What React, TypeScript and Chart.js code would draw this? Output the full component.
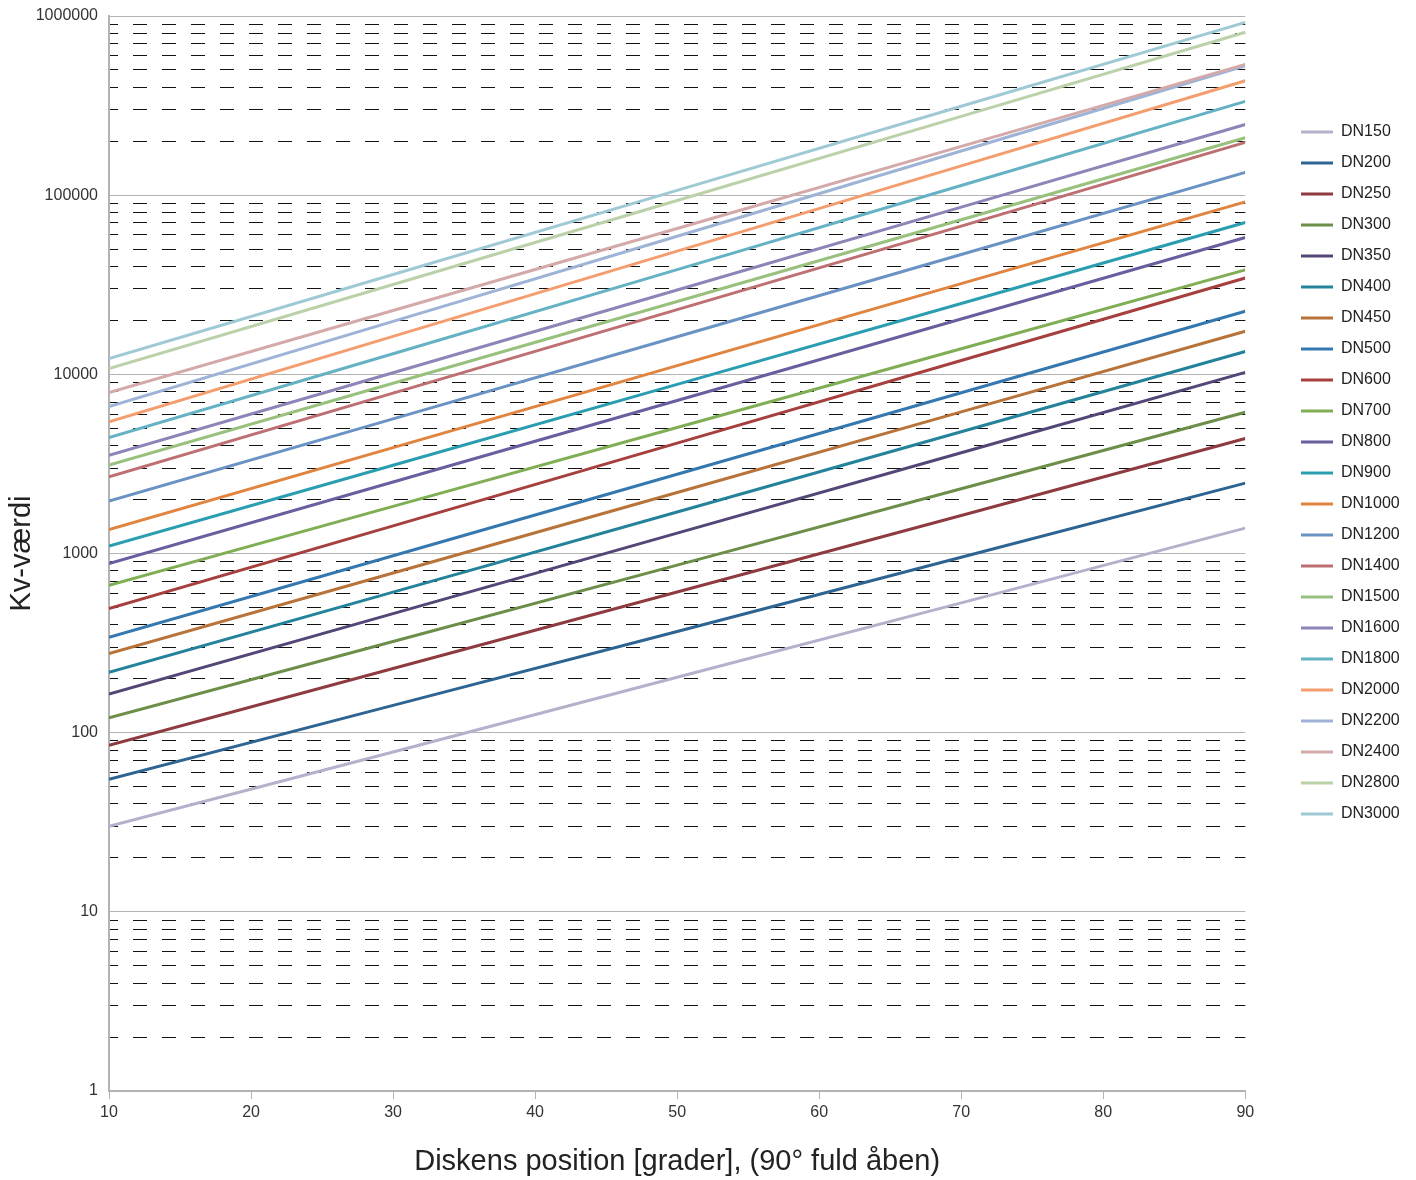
import React, { useEffect, useRef } from 'react';
import { Chart, registerables } from 'chart.js';

Chart.register(...registerables);

// ---- data ----
const degrees = [10, 30, 50, 70, 90];

const seriesNames = [
  'DN150', 'DN200', 'DN250', 'DN300', 'DN350', 'DN400', 'DN450', 'DN500',
  'DN600', 'DN700', 'DN800', 'DN900', 'DN1000', 'DN1200', 'DN1400', 'DN1500',
  'DN1600', 'DN1800', 'DN2000', 'DN2200', 'DN2400', 'DN2800', 'DN3000',
];

const dn150 = [30, 78, 204, 530, 1385];
const dn200 = [55, 142, 367, 953, 2470];
const dn250 = [85, 228, 610, 1630, 4380];
const dn300 = [121, 323, 861, 2300, 6140];
const dn350 = [164, 462, 1300, 3650, 10260];
const dn400 = [217, 609, 1706, 4780, 13400];
const dn450 = [276, 778, 2190, 6170, 17400];
const dn500 = [341, 971, 2770, 7890, 22500];
const dn600 = [493, 1426, 4130, 11940, 34500];
const dn700 = [665, 1832, 5050, 13900, 38300];
const dn800 = [879, 2506, 7150, 20370, 58000];
const dn900 = [1099, 3110, 8790, 24860, 70400];
const dn1000 = [1362, 3900, 11180, 32060, 91800];
const dn1200 = [1960, 5640, 16220, 46670, 134000];
const dn1400 = [2680, 7850, 22960, 67210, 197000];
const dn1500 = [3115, 8910, 25500, 72950, 209000];
const dn1600 = [3530, 10210, 29580, 85700, 248000];
const dn1800 = [4430, 13030, 38420, 113200, 334000];
const dn2000 = [5440, 16290, 48700, 145600, 435000];
const dn2200 = [6600, 19750, 59020, 176400, 528000];
const dn2400 = [7900, 22700, 65160, 187100, 537000];
const dn2800 = [10760, 31700, 93440, 275400, 811000];
const dn3000 = [12240, 36060, 106300, 313300, 922000];

const seriesValues = [
  dn150, dn200, dn250, dn300, dn350, dn400, dn450, dn500,
  dn600, dn700, dn800, dn900, dn1000, dn1200, dn1400, dn1500,
  dn1600, dn1800, dn2000, dn2200, dn2400, dn2800, dn3000,
];

const seriesColors = [
  '#b3b1cc', '#2e6491', '#8e3b3f', '#6b8e48', '#544676', '#24839a', '#b8733a', '#3578b0',
  '#a5403f', '#80ae55', '#6a5e9e', '#2a9db0', '#e0843f', '#6a93c4', '#be6f71', '#98c17e',
  '#8d84b8', '#65b2c4', '#f49e6f', '#9db4d6', '#d4a9a9', '#bbd1aa', '#a0c9d6',
];

const xTickValues = [10, 20, 30, 40, 50, 60, 70, 80, 90];
const yDecades = [1, 10, 100, 1000, 10000, 100000, 1000000];
const yMinorMultipliers = [2, 3, 4, 5, 6, 7, 8, 9];

const xTitle = 'Diskens position [grader], (90° fuld åben)';
const yTitle = 'Kv-værdi';

// ---- helpers ----
const FONT = "'Liberation Sans', Arial, Helvetica, sans-serif";

const isMajor = (v: number) => {
  const l = Math.log10(v);
  return Math.abs(l - Math.round(l)) < 1e-9;
};

const yTickValues: number[] = [];
yDecades.forEach((d, i) => {
  yTickValues.push(d);
  if (i < yDecades.length - 1) yMinorMultipliers.forEach((m) => yTickValues.push(m * d));
});
yTickValues.sort((a, b) => a - b);

const legendPlacer = {
  id: 'legendPlacer',
  afterLayout(chart: any) {
    const lg = chart.legend;
    if (!lg) return;
    const w = lg.width;
    lg.left = 1286;
    lg.right = 1286 + w;
    lg.top = 109;
  },
};

export default function App() {
  const canvasRef = useRef<HTMLCanvasElement | null>(null);

  useEffect(() => {
    if (!canvasRef.current) return;
    const n = seriesNames.length;
    const chart = new Chart(canvasRef.current, {
      type: 'line',
      data: {
        datasets: seriesNames.map((name, i) => ({
          label: name,
          data: degrees.map((x, j) => ({ x, y: seriesValues[i][j] })),
          borderColor: seriesColors[i],
          backgroundColor: seriesColors[i],
          borderWidth: 3,
          pointRadius: 0,
          tension: 0,
          fill: false,
          order: n - i,
        })),
      },
      options: {
        responsive: false,
        animation: false,
        layout: { padding: { top: 16, right: 47, bottom: 0, left: 0 } },
        scales: {
          x: {
            type: 'linear',
            min: 10,
            max: 90,
            afterBuildTicks: (s: any) => {
              s.ticks = xTickValues.map((v) => ({ value: v }));
            },
            afterFit: (s: any) => {
              s.height = 89;
            },
            ticks: {
              font: { family: FONT, size: 16 },
              color: '#333',
              padding: 4,
              autoSkip: false,
              maxRotation: 0,
            },
            grid: {
              drawOnChartArea: false,
              drawTicks: true,
              tickLength: 8,
              color: '#b3b3b3',
              lineWidth: 1,
            },
            border: { display: true, color: '#b3b3b3', width: 2 },
            title: {
              display: true,
              text: xTitle,
              font: { family: FONT, size: 29 },
              color: '#222',
              padding: { top: 0, bottom: 1 },
            },
          },
          y: {
            type: 'logarithmic',
            min: 1,
            max: 1000000,
            afterBuildTicks: (s: any) => {
              s.ticks = yTickValues.map((v) => ({ value: v, major: isMajor(v) }));
            },
            afterFit: (s: any) => {
              s.width = 109;
              s.paddingTop = 0;
              s.paddingBottom = 0;
            },
            ticks: {
              callback: (v: any) => (isMajor(Number(v)) ? String(v) : ''),
              font: { family: FONT, size: 16 },
              color: '#333',
              padding: 11,
              autoSkip: false,
            },
            grid: {
              drawTicks: false,
              lineWidth: 1,
              color: (ctx: any) => (ctx.tick && isMajor(ctx.tick.value) ? '#b3b3b3' : '#111'),
            },
            border: {
              display: true,
              color: '#b3b3b3',
              width: 2,
              dash: (ctx: any) => (ctx.tick && !isMajor(ctx.tick.value) ? [14, 15] : []),
              dashOffset: 6,
            },
            title: {
              display: true,
              text: yTitle,
              font: { family: FONT, size: 29 },
              color: '#222',
              padding: { top: 5, bottom: 0 },
            },
          },
        },
        plugins: {
          legend: {
            display: true,
            position: 'right',
            align: 'start',
            labels: {
              boxWidth: 32,
              boxHeight: 3,
              padding: 15,
              color: '#222',
              font: { family: FONT, size: 16 },
              generateLabels: (chart: any) =>
                chart.data.datasets.map((ds: any, i: number) => ({
                  text: ds.label,
                  fillStyle: ds.borderColor,
                  strokeStyle: ds.borderColor,
                  lineWidth: 0,
                  hidden: false,
                  datasetIndex: i,
                  fontColor: '#222',
                })),
            },
          },
          tooltip: { enabled: false },
        },
      } as any,
      plugins: [legendPlacer],
    });
    return () => chart.destroy();
  }, []);

  return (
    <div style={{ position: 'absolute', left: 0, top: 0, width: 1416, height: 1180, background: '#fff' }}>
      <canvas ref={canvasRef} width={1416} height={1180} style={{ display: 'block' }} />
    </div>
  );
}
